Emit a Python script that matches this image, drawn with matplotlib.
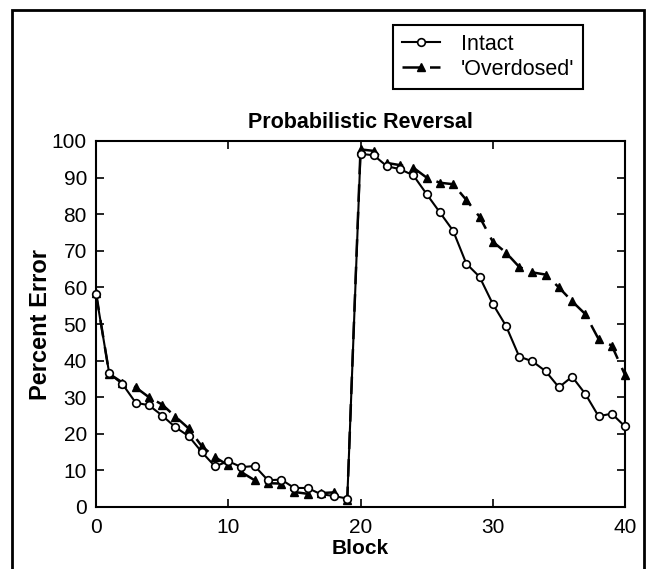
import matplotlib
matplotlib.use('Agg')
import matplotlib.pyplot as plt
from matplotlib.patches import Rectangle

# block index and percent error per group
blocks = list(range(41))
intact = [58.2, 36.5, 33.6, 28.5, 27.8, 25.0, 21.8, 19.4, 15.0, 11.1,
          12.5, 10.9, 11.2, 7.3, 7.5, 5.2, 5.2, 3.5, 3.0, 2.3,
          96.5, 96.1, 93.1, 92.3, 90.6, 85.5, 80.5, 75.5, 66.5, 62.9,
          55.5, 49.5, 41.1, 39.8, 37.1, 32.7, 35.6, 30.9, 24.8, 25.5,
          22.0]
overdosed = [58.5, 36.4, 34.0, 32.7, 30.0, 28.0, 24.7, 21.5, 16.6, 13.6,
             11.4, 9.5, 7.3, 6.5, 6.4, 4.1, 3.6, 3.8, 4.0, 2.0,
             97.7, 97.3, 94.0, 93.4, 92.7, 90.0, 88.6, 88.2, 83.9, 79.3,
             72.5, 69.5, 65.6, 64.1, 63.5, 60.0, 56.2, 52.7, 45.9, 44.1,
             36.1]
xticks = [0, 10, 20, 30, 40]
yticks = list(range(0, 101, 10))

plt.rcParams['font.family'] = ['Liberation Sans', 'DejaVu Sans']

fig = plt.figure(figsize=(6.49, 5.69), dpi=100)
ax = fig.add_axes([96 / 649, 1 - 507 / 569, 529 / 649, 366 / 569])

ax.plot(blocks, intact, color='black', linestyle='-', linewidth=1.5,
        marker='o', markersize=5.5, markerfacecolor='white',
        markeredgecolor='black', markeredgewidth=1.2, label='Intact',
        clip_on=False, zorder=3)
ax.plot(blocks, overdosed, color='black', linestyle=(0, (7, 4)), linewidth=1.8,
        marker='^', markersize=6, markerfacecolor='black',
        markeredgecolor='black', label="'Overdosed'", clip_on=False, zorder=2)

ax.set_xlim(0, 40)
ax.set_ylim(0, 100)
ax.set_xticks(xticks)
ax.set_yticks(yticks)
ax.tick_params(direction='in', length=6, width=1.2, labelsize=15,
               top=True, right=True)
ax.tick_params(axis='x', pad=8)
ax.tick_params(axis='y', pad=6.5)
for s in ax.spines.values():
    s.set_linewidth(1.5)

ax.set_title('Probabilistic Reversal', fontsize=15.5, fontweight='bold', pad=9)
ax.set_xlabel('Block', fontsize=15, fontweight='bold', labelpad=1)
ax.set_ylabel('Percent Error', fontsize=17, fontweight='bold', labelpad=0)

leg = fig.legend(loc='upper left', bbox_to_anchor=(393 / 649, 1 - 25 / 569),
                 bbox_transform=fig.transFigure, fontsize=15.5, fancybox=False,
                 edgecolor='black', framealpha=1, handlelength=1.8,
                 handletextpad=0.95, borderaxespad=0, borderpad=0.4,
                 labelspacing=0.2)
leg.get_frame().set_linewidth(1.5)

# outer border around the figure (open at the bottom edge)
fig.patches.append(Rectangle((12 / 649, -0.1), 632 / 649, 1.1 - 10 / 569,
                             transform=fig.transFigure, fill=False,
                             edgecolor='black', linewidth=2))

fig.savefig('out.png', dpi=100)
